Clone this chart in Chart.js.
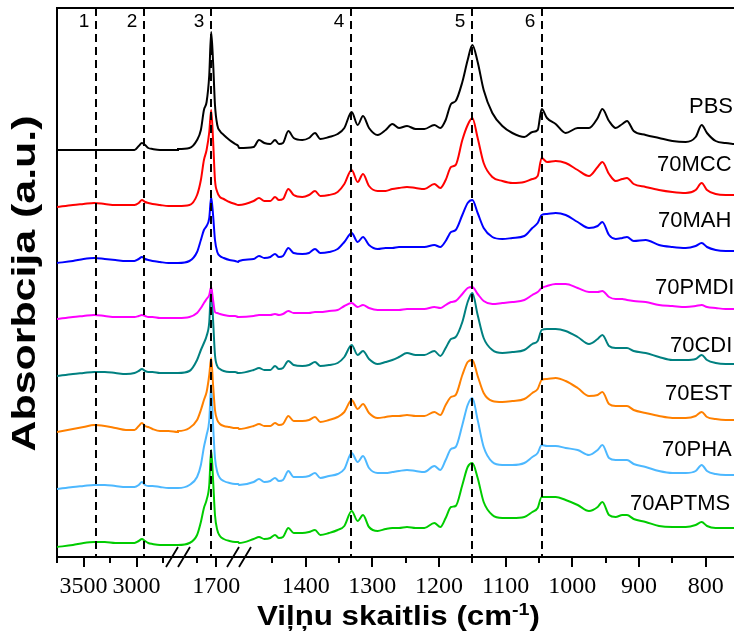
<!DOCTYPE html>
<html>
<head>
<meta charset="utf-8">
<script src="https://cdn.jsdelivr.net/npm/chart.js@4.4.1/dist/chart.umd.min.js"></script>
<style>
  html, body { margin: 0; padding: 0; background: #fff; overflow: hidden; }
</style>
</head>
<body>
<canvas id="myChart" width="734" height="637"></canvas>
<script>
// FTIR spectra, wavenumbers in cm-1 (three ranges, axis is broken twice)
const waveNumbers = [
  3750, 3600, 3500, 3400, 3300, 3200, 3100, 3020, 2980, 2950, 2920, 2890, 2850, 2780, 2700, 2610,
  1800, 1770, 1750, 1740, 1732, 1725, 1718, 1713, 1708, 1703, 1697, 1690, 1680, 1665, 1650, 1642,
  1500, 1478, 1470, 1462, 1453, 1446, 1440, 1434, 1426, 1418, 1405, 1395, 1386, 1378, 1365, 1352,
  1342, 1331, 1322, 1314, 1305, 1292, 1280, 1270, 1260, 1248, 1235, 1222, 1207, 1198, 1190, 1182,
  1175, 1165, 1157, 1150, 1142, 1133, 1120, 1105, 1090, 1072, 1060, 1052, 1046, 1038, 1025, 1010,
  992, 975, 962, 955, 945, 935, 925, 918, 908, 890, 870, 850, 830, 815, 806, 798, 785, 770, 757,
];

// absorbance above each sample's own baseline (a.u.)
const pbs = [
  0, 0, 0, 0, 0, 0, 0, 0, 4, 7, 5, 2, 1, 0, 0, 0,
  1, 2, 10, 20, 40, 48, 75, 118, 88, 45, 25, 19, 15, 10, 6, 4,
  2, 3, 10, 7, 6, 10, 6, 7, 19, 12, 10, 12, 17, 11, 13, 16, 22, 38, 25, 34,
  22, 15, 20, 26, 22, 24, 21, 21, 25, 22, 30, 46, 49, 68, 90, 105, 88, 60, 37, 24,
  17, 13, 18, 20, 41, 32, 26, 17, 22, 22, 32, 41, 29, 22, 26, 29, 19, 15, 12, 9,
  8, 13, 25, 17, 9, 7, 6,
];
const mcc = [
  0, 2, 3, 4, 3, 2, 2, 2, 4, 7, 5, 4, 3, 2, 1, 1,
  1, 2, 12, 27, 47, 57, 75, 97, 67, 27, 15, 10, 8, 5, 3, 2,
  2, 6, 9, 6, 6, 10, 7, 8, 18, 12, 10, 12, 16, 11, 12, 15, 23, 37, 25, 33,
  21, 16, 16, 18, 19, 20, 19, 18, 23, 19, 27, 40, 42, 67, 82, 89, 69, 44, 30, 26,
  24, 25, 28, 31, 49, 45, 46, 44, 37, 31, 40, 45, 33, 26, 28, 29, 23, 20, 17, 15,
  14, 17, 24, 17, 13, 12, 12,
];
const mah = [
  0, 2, 4, 5, 4, 3, 2, 2, 4, 6, 4, 3, 2, 1, 0, 0,
  0, 2, 11, 23, 33, 37, 45, 66, 48, 23, 11, 7, 5, 3, 2, 1,
  2, 4, 7, 5, 6, 9, 6, 7, 15, 10, 9, 10, 14, 10, 11, 14, 21, 30, 21, 26,
  18, 14, 15, 15, 16, 16, 16, 16, 18, 16, 22, 31, 33, 48, 60, 63, 50, 35, 26, 24,
  25, 27, 35, 40, 48, 49, 50, 48, 41, 35, 37, 41, 28, 24, 25, 26, 22, 23, 18, 16,
  15, 17, 20, 16, 13, 12, 12,
];
const pmdi = [
  0, 2, 3, 4, 3, 2, 2, 2, 3, 4, 3, 2, 2, 1, 1, 1,
  1, 2, 6, 11, 16, 20, 24, 32, 19, 7, 6, 5, 4, 3, 3, 2,
  2, 3, 4, 4, 4, 5, 4, 5, 8, 6, 6, 6, 7, 7, 8, 9, 13, 16, 12, 14,
  11, 9, 9, 9, 9, 10, 10, 10, 12, 11, 14, 17, 18, 25, 31, 32, 25, 18, 15, 16,
  17, 19, 24, 27, 31, 33, 35, 35, 31, 27, 27, 28, 22, 20, 20, 19, 18, 17, 14, 13,
  12, 13, 14, 12, 11, 10, 10,
];
const cdi = [
  0, 2, 3, 4, 4, 3, 2, 3, 5, 7, 5, 4, 4, 3, 3, 3,
  3, 5, 16, 26, 33, 40, 54, 88, 56, 21, 10, 7, 5, 4, 4, 3,
  3, 6, 8, 6, 6, 10, 7, 8, 15, 11, 10, 11, 14, 10, 11, 13, 19, 31, 21, 25,
  17, 12, 14, 16, 19, 23, 21, 21, 25, 20, 28, 37, 39, 54, 74, 83, 61, 38, 26, 23,
  24, 26, 32, 35, 46, 47, 47, 45, 39, 32, 37, 41, 30, 28, 28, 28, 25, 23, 19, 16,
  16, 17, 21, 16, 13, 12, 12,
];
const est = [
  0, 3, 5, 7, 6, 4, 2, 2, 6, 9, 6, 5, 3, 1, 1, 0,
  1, 4, 12, 22, 32, 40, 57, 74, 47, 22, 12, 8, 6, 5, 4, 4,
  3, 6, 8, 6, 6, 9, 7, 8, 16, 11, 11, 12, 15, 10, 12, 15, 20, 32, 23, 28,
  19, 14, 15, 16, 16, 17, 16, 16, 20, 17, 27, 35, 37, 57, 70, 72, 56, 39, 31, 30,
  31, 33, 39, 43, 52, 53, 54, 51, 44, 36, 37, 40, 28, 26, 26, 26, 22, 19, 16, 14,
  14, 16, 20, 15, 13, 12, 12,
];
const pha = [
  0, 2, 3, 4, 4, 3, 2, 2, 4, 7, 4, 3, 3, 2, 1, 1,
  1, 4, 12, 24, 42, 54, 69, 104, 64, 31, 17, 11, 8, 6, 5, 5,
  4, 7, 10, 7, 8, 11, 8, 9, 18, 12, 12, 13, 16, 11, 13, 15, 20, 36, 27, 33,
  21, 16, 16, 17, 18, 19, 18, 17, 23, 19, 29, 40, 42, 64, 84, 91, 69, 42, 27, 24,
  24, 26, 32, 36, 44, 43, 43, 41, 39, 34, 39, 44, 31, 29, 29, 29, 25, 22, 18, 16,
  16, 18, 24, 18, 15, 14, 14,
];
const aptms = [
  0, 2, 4, 5, 5, 4, 4, 4, 6, 8, 6, 4, 3, 2, 2, 2,
  2, 4, 12, 25, 39, 47, 62, 97, 67, 32, 17, 11, 8, 6, 5, 5,
  4, 8, 10, 8, 9, 12, 9, 10, 19, 14, 14, 15, 17, 12, 14, 17, 21, 36, 26, 32,
  20, 16, 18, 19, 19, 20, 19, 19, 24, 20, 29, 40, 41, 62, 80, 84, 69, 45, 32, 29,
  29, 30, 35, 39, 50, 50, 50, 47, 42, 36, 40, 45, 32, 30, 32, 32, 28, 25, 21, 20,
  20, 22, 25, 21, 19, 19, 19,
];

const sampleNames = ["PBS", "70MCC", "70MAH", "70PMDI", "70CDI", "70EST", "70PHA", "70APTMS"];
const spectra = [pbs, mcc, mah, pmdi, cdi, est, pha, aptms];
// vertical shift of each spectrum in the stack (a.u.)
const offsets = [407, 350, 294, 238, 181, 125, 68, 10];

// marked absorption bands
const bandCenters = [3385, 2930, 1713, 1332, 1150, 1046];
const bandLabels = ["1", "2", "3", "4", "5", "6"];

const tickWaves = [3500, 3000, 1700, 1400, 1300, 1200, 1100, 1000, 900, 800];
const minorWaves = [3750, 3250, 2750, 1750, 1450, 1350, 1250, 1150, 1050, 950, 850];

const colors = ["#000000", "#ff0000", "#0000ff", "#ff00ff", "#008080", "#ff8000", "#4db8ff", "#00cc00"];

// each range of wavenumbers gets its own stretch of the x axis
const segments = [
  { from: 3750, to: 2610, start: 0, end: 121 },
  { from: 1800, to: 1640, start: 121, end: 182 },
  { from: 1500, to: 750, start: 182, end: 682 },
];
function axisPos(w) {
  for (const s of segments) {
    if (w <= s.from && w >= s.to) {
      return s.start + ((s.from - w) / (s.from - s.to)) * (s.end - s.start);
    }
  }
  return null;
}

const datasets = spectra.map((vals, k) => ({
  label: sampleNames[k],
  data: waveNumbers.map((w, i) => ({ x: axisPos(w), y: offsets[k] + vals[i] })),
  borderColor: colors[k],
  borderWidth: 2,
  pointRadius: 0,
  cubicInterpolationMode: "monotone",
  fill: false,
}));

const sansFont = "'Liberation Sans', Arial, sans-serif";

// draws text stretched sideways so it spans the given width
function wideText(ctx, parts, width) {
  let total = 0;
  parts.forEach(p => {
    ctx.font = p.font;
    p.w = ctx.measureText(p.text).width;
    total += p.w;
  });
  ctx.save();
  ctx.scale(width / total, 1);
  let x = -total / 2;
  parts.forEach(p => {
    ctx.font = p.font;
    ctx.fillText(p.text, x, p.rise || 0);
    x += p.w;
  });
  ctx.restore();
}

// frame, ticks, axis breaks, band markers and text
const decorations = {
  id: "decorations",
  afterDatasetsDraw(chart, args, opts) {
    const { ctx, chartArea: a, scales } = chart;
    const xs = scales.x, ys = scales.y;
    ctx.save();
    ctx.strokeStyle = "#000";
    ctx.fillStyle = "#000";
    ctx.lineWidth = 2;

    // top edge of the frame
    ctx.beginPath();
    ctx.moveTo(a.left, a.top);
    ctx.lineTo(a.right + 2, a.top);
    ctx.stroke();

    // tick marks
    const tick = (w, len) => {
      const px = Math.round(xs.getPixelForValue(axisPos(w)));
      ctx.beginPath();
      ctx.moveTo(px, a.bottom);
      ctx.lineTo(px, a.bottom + len);
      ctx.stroke();
    };
    tickWaves.forEach(w => tick(w, 10));
    minorWaves.forEach(w => tick(w, 6));

    // axis breaks
    [segments[0].end, segments[1].end].forEach(u => {
      const c = xs.getPixelForValue(u);
      ctx.lineWidth = 1.8;
      ctx.beginPath();
      ctx.moveTo(c - 12, a.bottom + 10);
      ctx.lineTo(c, a.bottom - 10);
      ctx.moveTo(c, a.bottom + 10);
      ctx.lineTo(c + 12, a.bottom - 10);
      ctx.stroke();
    });

    // dashed band lines and their numbers
    ctx.lineWidth = 2;
    ctx.setLineDash([8, 5]);
    ctx.font = "19px " + sansFont;
    ctx.textAlign = "center";
    ctx.textBaseline = "middle";
    bandCenters.forEach((w, i) => {
      const px = Math.round(xs.getPixelForValue(axisPos(w)));
      ctx.beginPath();
      ctx.moveTo(px, a.top);
      ctx.lineTo(px, a.bottom);
      ctx.stroke();
      ctx.fillText(bandLabels[i], px - 12, a.top + 14);
    });
    ctx.setLineDash([]);

    // sample names
    ctx.font = "22px " + sansFont;
    ctx.textAlign = "left";
    sampleNames.forEach((name, k) => {
      ctx.fillText(name, opts.labelX[k], ys.getPixelForValue(offsets[k] + opts.labelLift[k]));
    });

    // x axis title with superscript
    ctx.textAlign = "left";
    ctx.textBaseline = "alphabetic";
    ctx.save();
    ctx.translate((a.left + a.right) / 2 + 3, 625);
    wideText(ctx, [
      { text: "Viļņu skaitlis (cm", font: "bold 27px " + sansFont },
      { text: "-1", font: "bold 17px " + sansFont, rise: -10 },
      { text: ")", font: "bold 27px " + sansFont },
    ], 283);
    ctx.restore();

    // y axis title
    ctx.translate(35, (a.top + a.bottom) / 2 + 1);
    ctx.rotate(-Math.PI / 2);
    wideText(ctx, [{ text: "Absorbcija (a.u.)", font: "bold 33px " + sansFont }], 336);
    ctx.restore();
  },
};

const ctx = document.getElementById("myChart");

new Chart(ctx, {
  type: "line",
  data: { datasets },
  options: {
    responsive: false,
    animation: false,
    layout: { padding: { top: 8, right: 0, bottom: 0, left: 0 } },
    plugins: {
      legend: { display: false },
      tooltip: { enabled: false },
      decorations: {
        labelLift: [43, 42, 42, 31, 30, 38, 39, 43],
        labelX: [689, 657, 658, 655, 670, 665, 662, 630],
      },
    },
    scales: {
      x: {
        type: "linear",
        min: 0,
        max: 677,
        grid: { display: false },
        border: { display: true, color: "#000", width: 2 },
        afterBuildTicks: scale => {
          scale.ticks = tickWaves.map(w => ({ value: axisPos(w) }));
        },
        afterFit: scale => {
          scale.height = 80;
        },
        ticks: {
          autoSkip: false,
          maxRotation: 0,
          padding: 7,
          color: "#000",
          font: { family: "Liberation Serif", size: 24 },
          callback: (value, index) => String(tickWaves[index]),
        },
      },
      y: {
        min: 0,
        max: 549,
        grid: { display: false },
        border: { display: true, color: "#000", width: 2 },
        ticks: { display: false },
        afterFit: scale => {
          scale.width = 57;
        },
      },
    },
  },
  plugins: [decorations],
});
</script>
</body>
</html>
